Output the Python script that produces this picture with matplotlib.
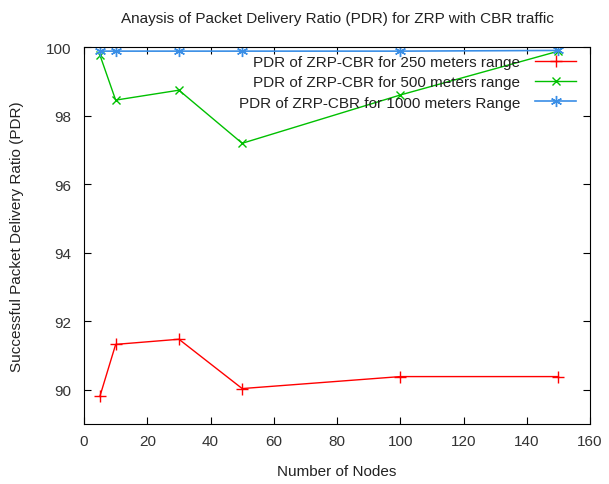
import matplotlib
matplotlib.use("Agg")
import matplotlib.pyplot as plt

plt.rcParams['font.family'] = ['Liberation Sans', 'DejaVu Sans']

# data
nodes = [5, 10, 30, 50, 100, 150]
pdr_250 = [89.8, 91.32, 91.47, 90.03, 90.38, 90.38]
pdr_500 = [99.77, 98.45, 98.74, 97.19, 98.6, 99.88]
pdr_1000 = [99.88, 99.88, 99.88, 99.88, 99.88, 99.9]

fig = plt.figure(figsize=(6.09, 4.85), dpi=100)
ax = fig.add_axes([0.138, 0.124, 0.831, 0.777])

ax.plot(nodes, pdr_250, color="#ff0000", marker="+", markersize=8, linewidth=1,
        label="PDR of ZRP-CBR for 250 meters range")
ax.plot(nodes, pdr_500, color="#00c000", marker="x", markersize=6, linewidth=1,
        label="PDR of ZRP-CBR for 500 meters range")
ax.plot(nodes, pdr_1000, color="#3a8ee6", marker=(6, 2, 0), markersize=8, linewidth=1.2,
        label="PDR of ZRP-CBR for 1000 meters Range")

ax.set_xlim(0, 160)
ax.set_ylim(89, 100)
ax.set_xticks(range(0, 161, 20))
ax.set_yticks(range(90, 101, 2))
ax.tick_params(direction="in", top=True, right=True, length=5, labelsize=11,
               labelcolor="#333333")
ax.tick_params(axis="y", pad=9)
ax.tick_params(axis="x", pad=7)

ax.set_title("Anaysis of Packet Delivery Ratio (PDR) for ZRP with CBR traffic",
             fontsize=11, color="#222222", pad=18)
ax.set_xlabel("Number of Nodes", fontsize=11, color="#222222", labelpad=12)
ax.set_ylabel("Successful Packet Delivery Ratio (PDR)", fontsize=11, color="#222222", labelpad=16)

leg = ax.legend(loc="upper right", frameon=False, markerfirst=False, fontsize=11,
                handlelength=2.7, handletextpad=1.0, borderaxespad=0.0, labelspacing=0.4,
                bbox_to_anchor=(0.985, 0.994))
for t in leg.get_texts():
    t.set_ha("right")
    t.set_color("#222222")

fig.savefig("out.png", dpi=100)
